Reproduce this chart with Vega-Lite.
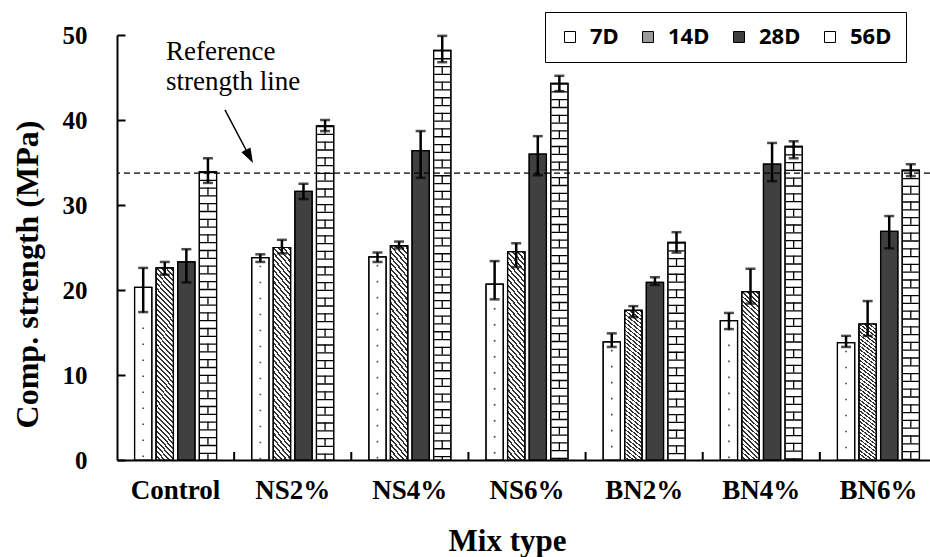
{
  "$schema": "https://vega.github.io/schema/vega-lite/v6.json",
  "width": 813,
  "height": 425,
  "autosize": "none",
  "padding": {"left": 117, "top": 35, "right": 0, "bottom": 97},
  "background": "white",
  "config": {"view": {"stroke": null}},
  "layer": [
    {
      "data": {
        "values": [
          {"mix": "Control", "age": "7D", "value": 20.3, "lo": 17.4, "hi": 22.6},
          {"mix": "Control", "age": "14D", "value": 22.6, "lo": 21.8, "hi": 23.3},
          {"mix": "Control", "age": "28D", "value": 23.3, "lo": 20.9, "hi": 24.8},
          {"mix": "Control", "age": "56D", "value": 33.9, "lo": 32.6, "hi": 35.5},
          {"mix": "NS2%", "age": "7D", "value": 23.8, "lo": 23.3, "hi": 24.2},
          {"mix": "NS2%", "age": "14D", "value": 25.0, "lo": 24.3, "hi": 25.9},
          {"mix": "NS2%", "age": "28D", "value": 31.6, "lo": 30.7, "hi": 32.5},
          {"mix": "NS2%", "age": "56D", "value": 39.3, "lo": 38.7, "hi": 40.0},
          {"mix": "NS4%", "age": "7D", "value": 23.9, "lo": 23.3, "hi": 24.4},
          {"mix": "NS4%", "age": "14D", "value": 25.2, "lo": 24.9, "hi": 25.7},
          {"mix": "NS4%", "age": "28D", "value": 36.4, "lo": 33.2, "hi": 38.7},
          {"mix": "NS4%", "age": "56D", "value": 48.2, "lo": 46.8, "hi": 49.9},
          {"mix": "NS6%", "age": "7D", "value": 20.7, "lo": 18.9, "hi": 23.4},
          {"mix": "NS6%", "age": "14D", "value": 24.5, "lo": 22.7, "hi": 25.5},
          {"mix": "NS6%", "age": "28D", "value": 36.0, "lo": 33.5, "hi": 38.1},
          {"mix": "NS6%", "age": "56D", "value": 44.3, "lo": 43.4, "hi": 45.2},
          {"mix": "BN2%", "age": "7D", "value": 13.9, "lo": 13.3, "hi": 14.9},
          {"mix": "BN2%", "age": "14D", "value": 17.6, "lo": 16.8, "hi": 18.1},
          {"mix": "BN2%", "age": "28D", "value": 20.9, "lo": 20.6, "hi": 21.5},
          {"mix": "BN2%", "age": "56D", "value": 25.6, "lo": 24.4, "hi": 26.8},
          {"mix": "BN4%", "age": "7D", "value": 16.4, "lo": 15.4, "hi": 17.3},
          {"mix": "BN4%", "age": "14D", "value": 19.8, "lo": 18.4, "hi": 22.5},
          {"mix": "BN4%", "age": "28D", "value": 34.8, "lo": 32.8, "hi": 37.3},
          {"mix": "BN4%", "age": "56D", "value": 36.9, "lo": 35.5, "hi": 37.5},
          {"mix": "BN6%", "age": "7D", "value": 13.8, "lo": 13.3, "hi": 14.6},
          {"mix": "BN6%", "age": "14D", "value": 16.0, "lo": 14.6, "hi": 18.7},
          {"mix": "BN6%", "age": "28D", "value": 26.9, "lo": 24.9, "hi": 28.7},
          {"mix": "BN6%", "age": "56D", "value": 34.1, "lo": 33.4, "hi": 34.8}
        ]
      },
      "encoding": {
        "x": {
          "field": "mix",
          "type": "nominal",
          "scale": {
            "domain": ["Control", "NS2%", "NS4%", "NS6%", "BN2%", "BN4%", "BN6%"],
            "range": [0, 820],
            "paddingInner": 0.3,
            "paddingOuter": 0.15
          },
          "axis": {
            "title": "Mix type",
            "ticks": false,
            "domainColor": "black",
            "domainWidth": 2,
            "labelAngle": 0,
            "labelFont": "Liberation Serif",
            "labelFontWeight": "bold",
            "labelFontSize": 27,
            "labelColor": "black",
            "labelPadding": 17,
            "titleFont": "Liberation Serif",
            "titleFontWeight": "bold",
            "titleFontSize": 31,
            "titleColor": "black",
            "titleX": 390,
            "titleY": 90,
            "titleBaseline": "alphabetic"
          }
        },
        "xOffset": {
          "field": "age",
          "type": "nominal",
          "scale": {"domain": ["7D", "14D", "28D", "56D"], "paddingInner": 0.2, "paddingOuter": 0}
        },
        "y": {
          "field": "value",
          "type": "quantitative",
          "scale": {"domain": [0, 50], "nice": false},
          "axis": {
            "title": "Comp. strength (MPa)",
            "values": [0, 10, 20, 30, 40, 50],
            "grid": false,
            "tickSize": -8,
            "tickWidth": 2,
            "tickColor": "black",
            "domainColor": "black",
            "domainWidth": 2,
            "labelFont": "Liberation Serif",
            "labelFontWeight": "bold",
            "labelFontSize": 25,
            "labelColor": "black",
            "labelPadding": 38,
            "titleFont": "Liberation Serif",
            "titleFontWeight": "bold",
            "titleFontSize": 32,
            "titleColor": "black",
            "titleAngle": -90,
            "titleX": -90,
            "titleY": 239,
            "titleAlign": "center",
            "titleBaseline": "middle"
          }
        }
      },
      "layer": [
        {
          "mark": {"type": "bar", "stroke": "black", "strokeWidth": 1.2},
          "encoding": {
            "fill": {
              "field": "age",
              "type": "nominal",
              "scale": {"domain": ["7D", "14D", "28D", "56D"], "range": ["white", "#9a9a9a", "#404040", "white"]},
              "legend": {
                "orient": "none",
                "legendX": 428,
                "legendY": -23,
                "direction": "horizontal",
                "title": null,
                "symbolType": "square",
                "symbolSize": 121,
                "symbolStrokeColor": "black",
                "symbolStrokeWidth": 1,
                "labelFont": "Noto Sans",
                "labelFontWeight": "bold",
                "labelFontSize": 22,
                "labelColor": "black",
                "labelOffset": 9,
                "columnPadding": 18,
                "strokeColor": "black",
                "fillColor": "white",
                "padding": 14
              }
            }
          }
        },
        {
          "transform": [{"filter": "datum.age === '14D'"}],
          "mark": {
            "type": "bar",
            "stroke": "black",
            "strokeWidth": 1.2,
            "fill": {
              "gradient": "linear",
              "x1": 0, "y1": 1, "x2": 1, "y2": -9.5,
              "stops": [
                {"offset": 0, "color": "#fff"}, {"offset": 0.0015, "color": "#fff"}, {"offset": 0.0015, "color": "#333"}, {"offset": 0.0025, "color": "#333"},
                {"offset": 0.0025, "color": "#fff"}, {"offset": 0.004, "color": "#fff"}, {"offset": 0.004, "color": "#333"}, {"offset": 0.005, "color": "#333"},
                {"offset": 0.005, "color": "#fff"}, {"offset": 0.0065, "color": "#fff"}, {"offset": 0.0065, "color": "#333"}, {"offset": 0.0075, "color": "#333"},
                {"offset": 0.0075, "color": "#fff"}, {"offset": 0.009, "color": "#fff"}, {"offset": 0.009, "color": "#333"}, {"offset": 0.01, "color": "#333"},
                {"offset": 0.01, "color": "#fff"}, {"offset": 0.0115, "color": "#fff"}, {"offset": 0.0115, "color": "#333"}, {"offset": 0.0125, "color": "#333"},
                {"offset": 0.0125, "color": "#fff"}, {"offset": 0.014, "color": "#fff"}, {"offset": 0.014, "color": "#333"}, {"offset": 0.015, "color": "#333"},
                {"offset": 0.015, "color": "#fff"}, {"offset": 0.0165, "color": "#fff"}, {"offset": 0.0165, "color": "#333"}, {"offset": 0.0175, "color": "#333"},
                {"offset": 0.0175, "color": "#fff"}, {"offset": 0.019, "color": "#fff"}, {"offset": 0.019, "color": "#333"}, {"offset": 0.02, "color": "#333"},
                {"offset": 0.02, "color": "#fff"}, {"offset": 0.0215, "color": "#fff"}, {"offset": 0.0215, "color": "#333"}, {"offset": 0.0225, "color": "#333"},
                {"offset": 0.0225, "color": "#fff"}, {"offset": 0.024, "color": "#fff"}, {"offset": 0.024, "color": "#333"}, {"offset": 0.025, "color": "#333"},
                {"offset": 0.025, "color": "#fff"}, {"offset": 0.0265, "color": "#fff"}, {"offset": 0.0265, "color": "#333"}, {"offset": 0.0275, "color": "#333"},
                {"offset": 0.0275, "color": "#fff"}, {"offset": 0.029, "color": "#fff"}, {"offset": 0.029, "color": "#333"}, {"offset": 0.03, "color": "#333"},
                {"offset": 0.03, "color": "#fff"}, {"offset": 0.0315, "color": "#fff"}, {"offset": 0.0315, "color": "#333"}, {"offset": 0.0325, "color": "#333"},
                {"offset": 0.0325, "color": "#fff"}, {"offset": 0.034, "color": "#fff"}, {"offset": 0.034, "color": "#333"}, {"offset": 0.035, "color": "#333"},
                {"offset": 0.035, "color": "#fff"}, {"offset": 0.0365, "color": "#fff"}, {"offset": 0.0365, "color": "#333"}, {"offset": 0.0375, "color": "#333"},
                {"offset": 0.0375, "color": "#fff"}, {"offset": 0.039, "color": "#fff"}, {"offset": 0.039, "color": "#333"}, {"offset": 0.04, "color": "#333"},
                {"offset": 0.04, "color": "#fff"}, {"offset": 0.0415, "color": "#fff"}, {"offset": 0.0415, "color": "#333"}, {"offset": 0.0425, "color": "#333"},
                {"offset": 0.0425, "color": "#fff"}, {"offset": 0.044, "color": "#fff"}, {"offset": 0.044, "color": "#333"}, {"offset": 0.045, "color": "#333"},
                {"offset": 0.045, "color": "#fff"}, {"offset": 0.0465, "color": "#fff"}, {"offset": 0.0465, "color": "#333"}, {"offset": 0.0475, "color": "#333"},
                {"offset": 0.0475, "color": "#fff"}, {"offset": 0.049, "color": "#fff"}, {"offset": 0.049, "color": "#333"}, {"offset": 0.05, "color": "#333"},
                {"offset": 0.05, "color": "#fff"}, {"offset": 0.0515, "color": "#fff"}, {"offset": 0.0515, "color": "#333"}, {"offset": 0.0525, "color": "#333"},
                {"offset": 0.0525, "color": "#fff"}, {"offset": 0.054, "color": "#fff"}, {"offset": 0.054, "color": "#333"}, {"offset": 0.055, "color": "#333"},
                {"offset": 0.055, "color": "#fff"}, {"offset": 0.0565, "color": "#fff"}, {"offset": 0.0565, "color": "#333"}, {"offset": 0.0575, "color": "#333"},
                {"offset": 0.0575, "color": "#fff"}, {"offset": 0.059, "color": "#fff"}, {"offset": 0.059, "color": "#333"}, {"offset": 0.06, "color": "#333"},
                {"offset": 0.06, "color": "#fff"}, {"offset": 0.0615, "color": "#fff"}, {"offset": 0.0615, "color": "#333"}, {"offset": 0.0625, "color": "#333"},
                {"offset": 0.0625, "color": "#fff"}, {"offset": 0.064, "color": "#fff"}, {"offset": 0.064, "color": "#333"}, {"offset": 0.065, "color": "#333"},
                {"offset": 0.065, "color": "#fff"}, {"offset": 0.0665, "color": "#fff"}, {"offset": 0.0665, "color": "#333"}, {"offset": 0.0675, "color": "#333"},
                {"offset": 0.0675, "color": "#fff"}, {"offset": 0.069, "color": "#fff"}, {"offset": 0.069, "color": "#333"}, {"offset": 0.07, "color": "#333"},
                {"offset": 0.07, "color": "#fff"}, {"offset": 0.0715, "color": "#fff"}, {"offset": 0.0715, "color": "#333"}, {"offset": 0.0725, "color": "#333"},
                {"offset": 0.0725, "color": "#fff"}, {"offset": 0.074, "color": "#fff"}, {"offset": 0.074, "color": "#333"}, {"offset": 0.075, "color": "#333"},
                {"offset": 0.075, "color": "#fff"}, {"offset": 0.0765, "color": "#fff"}, {"offset": 0.0765, "color": "#333"}, {"offset": 0.0775, "color": "#333"},
                {"offset": 0.0775, "color": "#fff"}, {"offset": 0.079, "color": "#fff"}, {"offset": 0.079, "color": "#333"}, {"offset": 0.08, "color": "#333"},
                {"offset": 0.08, "color": "#fff"}, {"offset": 0.0815, "color": "#fff"}, {"offset": 0.0815, "color": "#333"}, {"offset": 0.0825, "color": "#333"},
                {"offset": 0.0825, "color": "#fff"}, {"offset": 0.084, "color": "#fff"}, {"offset": 0.084, "color": "#333"}, {"offset": 0.085, "color": "#333"},
                {"offset": 0.085, "color": "#fff"}, {"offset": 0.0865, "color": "#fff"}, {"offset": 0.0865, "color": "#333"}, {"offset": 0.0875, "color": "#333"},
                {"offset": 0.0875, "color": "#fff"}, {"offset": 0.089, "color": "#fff"}, {"offset": 0.089, "color": "#333"}, {"offset": 0.09, "color": "#333"},
                {"offset": 0.09, "color": "#fff"}, {"offset": 0.0915, "color": "#fff"}, {"offset": 0.0915, "color": "#333"}, {"offset": 0.0925, "color": "#333"},
                {"offset": 0.0925, "color": "#fff"}, {"offset": 0.094, "color": "#fff"}, {"offset": 0.094, "color": "#333"}, {"offset": 0.095, "color": "#333"},
                {"offset": 0.095, "color": "#fff"}, {"offset": 0.0965, "color": "#fff"}, {"offset": 0.0965, "color": "#333"}, {"offset": 0.0975, "color": "#333"},
                {"offset": 0.0975, "color": "#fff"}, {"offset": 0.099, "color": "#fff"}, {"offset": 0.099, "color": "#333"}, {"offset": 0.1, "color": "#333"},
                {"offset": 0.1, "color": "#fff"}, {"offset": 0.1015, "color": "#fff"}, {"offset": 0.1015, "color": "#333"}, {"offset": 0.1025, "color": "#333"},
                {"offset": 0.1025, "color": "#fff"}, {"offset": 0.104, "color": "#fff"}, {"offset": 0.104, "color": "#333"}, {"offset": 0.105, "color": "#333"},
                {"offset": 0.105, "color": "#fff"}, {"offset": 0.1065, "color": "#fff"}, {"offset": 0.1065, "color": "#333"}, {"offset": 0.1075, "color": "#333"},
                {"offset": 0.1075, "color": "#fff"}, {"offset": 1, "color": "#fff"}
              ]
            }
          }
        },
        {
          "transform": [{"filter": "datum.age === '56D'"}],
          "mark": {"type": "rule", "color": "black", "strokeWidth": 16, "strokeDash": [1.3, 6.5], "strokeCap": "butt"},
          "encoding": {"y2": {"datum": 0}}
        },
        {
          "transform": [{"filter": "datum.age === '56D'"}],
          "mark": {"type": "rule", "color": "black", "strokeWidth": 1.3, "strokeDash": [7.8, 7.8], "strokeCap": "butt"},
          "encoding": {"y2": {"datum": 0}}
        },
        {
          "transform": [{"filter": "datum.age === '7D'"}],
          "mark": {"type": "rule", "color": "#444", "strokeWidth": 1.6, "strokeDash": [1.6, 30.4], "strokeDashOffset": -8, "strokeCap": "butt"},
          "encoding": {
            "xOffset": {"field": "age", "type": "nominal", "bandPosition": 0.35},
            "y2": {"datum": 0}
          }
        },
        {
          "transform": [{"filter": "datum.age === '7D'"}],
          "mark": {"type": "rule", "color": "#444", "strokeWidth": 1.6, "strokeDash": [1.6, 30.4], "strokeDashOffset": -24, "strokeCap": "butt"},
          "encoding": {
            "xOffset": {"field": "age", "type": "nominal", "bandPosition": 0.65},
            "y2": {"datum": 0}
          }
        },
        {
          "mark": {"type": "bar", "fillOpacity": 0, "stroke": "black", "strokeWidth": 1.2}
        },
        {
          "mark": {"type": "rule", "color": "black", "strokeWidth": 2.5},
          "encoding": {
            "y": {"field": "lo", "type": "quantitative", "title": "Comp. strength (MPa)"},
            "y2": {"field": "hi"}
          }
        },
        {
          "mark": {"type": "tick", "color": "black", "thickness": 2.5, "size": 10},
          "encoding": {"y": {"field": "lo", "type": "quantitative", "title": "Comp. strength (MPa)"}}
        },
        {
          "mark": {"type": "tick", "color": "black", "thickness": 2.5, "size": 10},
          "encoding": {"y": {"field": "hi", "type": "quantitative", "title": "Comp. strength (MPa)"}}
        }
      ]
    },
    {
      "data": {"values": [{"label": "Reference strength line"}]},
      "layer": [
        {
          "mark": {"type": "rule", "color": "black", "strokeWidth": 1.2, "strokeDash": [6, 4]},
          "encoding": {"y": {"datum": 33.76, "type": "quantitative"}}
        },
        {
          "mark": {"type": "point", "shape": "M-0.25,-1L0.25,-1L0.25,1L-0.25,1Z", "size": 64, "filled": true, "color": "black", "opacity": 1},
          "encoding": {"x": {"datum": "Control", "bandPosition": 1.2143}, "y": {"datum": 0.47, "type": "quantitative"}}
        },
        {
          "mark": {"type": "point", "shape": "M-0.25,-1L0.25,-1L0.25,1L-0.25,1Z", "size": 64, "filled": true, "color": "black", "opacity": 1},
          "encoding": {"x": {"datum": "NS2%", "bandPosition": 1.2143}, "y": {"datum": 0.47, "type": "quantitative"}}
        },
        {
          "mark": {"type": "point", "shape": "M-0.25,-1L0.25,-1L0.25,1L-0.25,1Z", "size": 64, "filled": true, "color": "black", "opacity": 1},
          "encoding": {"x": {"datum": "NS4%", "bandPosition": 1.2143}, "y": {"datum": 0.47, "type": "quantitative"}}
        },
        {
          "mark": {"type": "point", "shape": "M-0.25,-1L0.25,-1L0.25,1L-0.25,1Z", "size": 64, "filled": true, "color": "black", "opacity": 1},
          "encoding": {"x": {"datum": "NS6%", "bandPosition": 1.2143}, "y": {"datum": 0.47, "type": "quantitative"}}
        },
        {
          "mark": {"type": "point", "shape": "M-0.25,-1L0.25,-1L0.25,1L-0.25,1Z", "size": 64, "filled": true, "color": "black", "opacity": 1},
          "encoding": {"x": {"datum": "BN2%", "bandPosition": 1.2143}, "y": {"datum": 0.47, "type": "quantitative"}}
        },
        {
          "mark": {"type": "point", "shape": "M-0.25,-1L0.25,-1L0.25,1L-0.25,1Z", "size": 64, "filled": true, "color": "black", "opacity": 1},
          "encoding": {"x": {"datum": "BN4%", "bandPosition": 1.2143}, "y": {"datum": 0.47, "type": "quantitative"}}
        },
        {
          "mark": {
            "type": "text",
            "text": ["Reference", "strength line"],
            "font": "Liberation Serif",
            "fontSize": 27,
            "align": "left",
            "baseline": "alphabetic",
            "lineHeight": 30,
            "color": "black"
          },
          "encoding": {
            "x": {"datum": "Control", "bandPosition": 0.383},
            "y": {"datum": 47.06, "type": "quantitative"}
          }
        },
        {
          "mark": {
            "type": "point",
            "shape": "M-0.025,-1L0.025,-1L0.025,0.5L0.17,0.5L0,1L-0.17,0.5L-0.025,0.5Z",
            "size": 3600,
            "filled": true,
            "color": "black",
            "opacity": 1,
            "angle": 332.2
          },
          "encoding": {
            "x": {"datum": "Control", "bandPosition": 1.273},
            "y": {"datum": 38.06, "type": "quantitative"}
          }
        }
      ]
    }
  ]
}
